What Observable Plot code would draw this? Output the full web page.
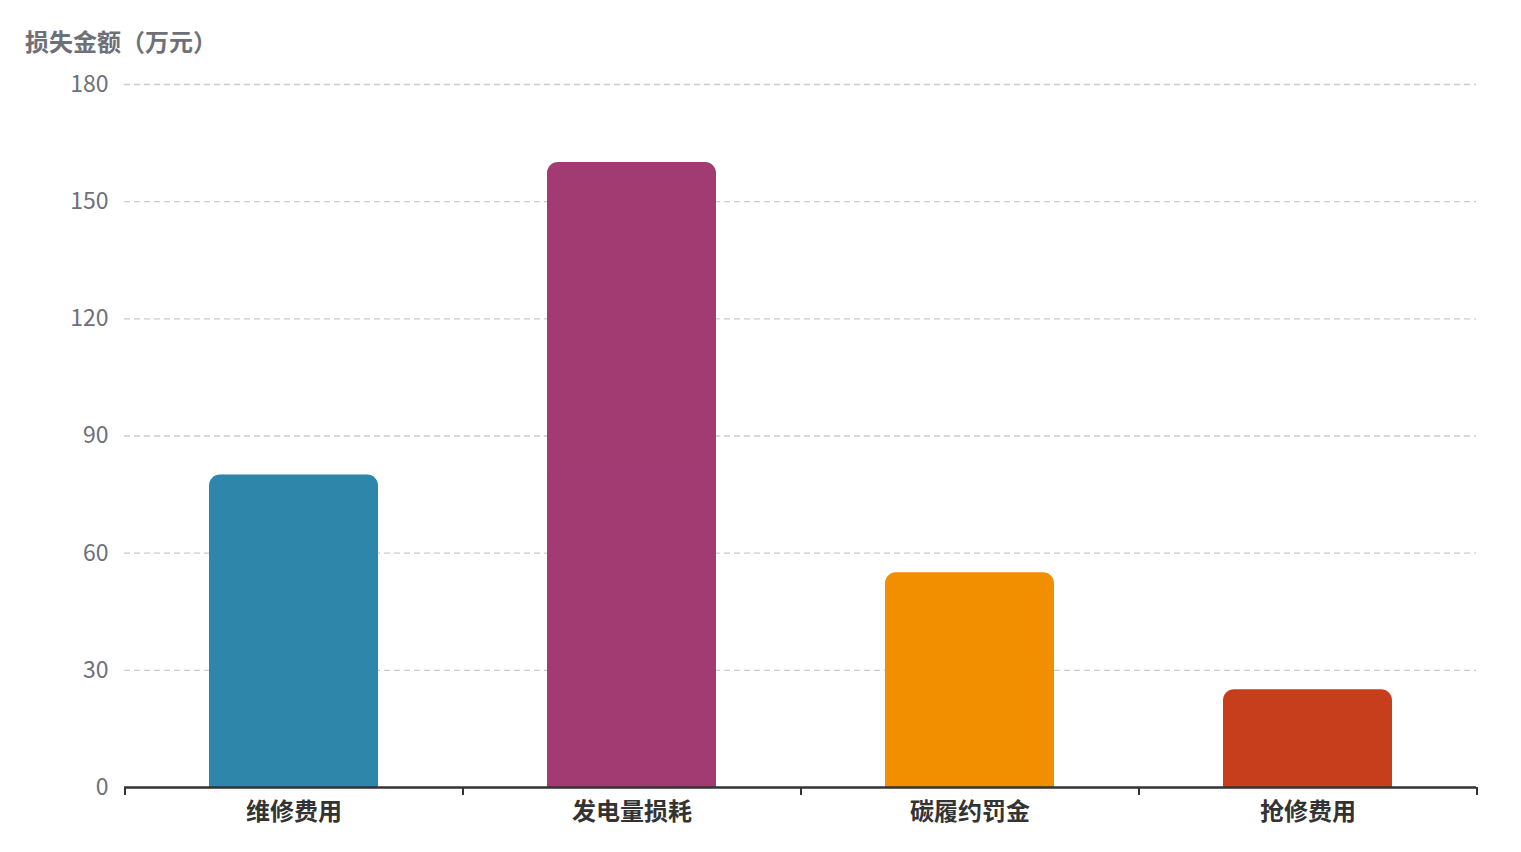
<!DOCTYPE html>
<html>
<head>
<meta charset="utf-8">
<script src="https://cdn.jsdelivr.net/npm/d3@7"></script>
<script src="https://cdn.jsdelivr.net/npm/@observablehq/plot@0.6"></script>
<style>
  body { margin: 0; background: #fff; font-family: "Noto Sans CJK SC", "Noto Sans", sans-serif; }
  #wrap { position: relative; width: 1521px; height: 852px; }
  #title { position: absolute; left: 25px; top: 23px; font-size: 24px; font-weight: bold; color: #6e7079; font-family: "Noto Sans CJK SC", sans-serif; }
</style>
</head>
<body>
<div id="wrap">
  <div id="title">损失金额（万元）</div>
  <div id="chart"></div>
</div>
<script>
const categories = ["维修费用", "发电量损耗", "碳履约罚金", "抢修费用"];
const values = [80, 160, 55, 25];
const colors = ["#2e86ab", "#a23b72", "#f18f01", "#c73e1d"];
const yTicks = [0, 30, 60, 90, 120, 150, 180];

const data = categories.map((c, i) => ({ category: c, value: values[i], color: colors[i] }));

const W = 1521, H = 852;
const mL = 124, mR = 45, mT = 84, mB = 65;
const step = (W - mL - mR) / categories.length;

const chart = Plot.plot({
  width: W,
  height: H,
  marginLeft: mL,
  marginRight: mR,
  marginTop: mT,
  marginBottom: mB,
  style: { fontFamily: '"Noto Sans CJK SC", "Noto Sans", sans-serif', background: "#fff", overflow: "visible" },
  x: { domain: categories, paddingInner: 0.5, paddingOuter: 0.25, label: null, axis: null },
  y: { domain: [0, 180], ticks: yTicks, label: null, axis: null },
  marks: [
    Plot.ruleY(yTicks.filter(d => d > 0), { stroke: "#cccccc", strokeWidth: 1.3, strokeDasharray: "6,4" }),
    Plot.barY(data, { x: "category", y: "value", fill: "color", rx: 11 }),
    Plot.barY(data, { x: "category", y1: 0, y2: d => d.value / 2, fill: "color" }),
    Plot.ruleY([0], { stroke: "#333333", strokeWidth: 2.5 }),
    Plot.ruleX(categories, { x: d => d, y1: 0, y2: 0, dx: -step / 2, stroke: "#333333", strokeWidth: 2, insetBottom: -8 }),
    Plot.ruleX([categories[categories.length - 1]], { x: d => d, y1: 0, y2: 0, dx: step / 2, stroke: "#333333", strokeWidth: 2, insetBottom: -8 }),
    Plot.axisY(yTicks, { tickSize: 0, tickPadding: 16, fontSize: 23, fill: "#6e7079", label: null }),
    Plot.text(categories, { x: d => d, frameAnchor: "bottom", dy: 32, text: d => d, fontSize: 24, fontWeight: "bold", fill: "#333333" })
  ]
});
document.getElementById("chart").appendChild(chart);
</script>
</body>
</html>
